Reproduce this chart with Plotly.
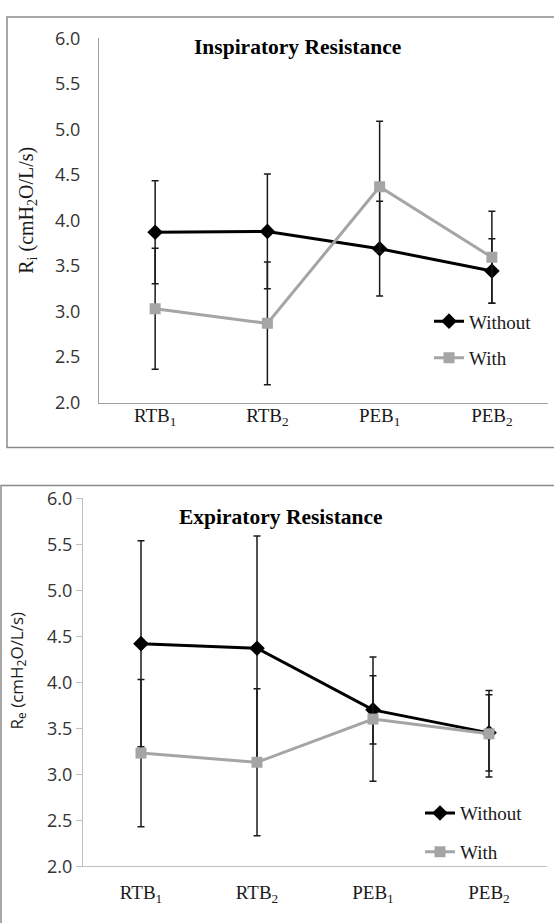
import plotly.graph_objects as go

W, H = 554, 923

categories = ["RTB<sub>1</sub>", "RTB<sub>2</sub>", "PEB<sub>1</sub>", "PEB<sub>2</sub>"]
y_ticks = [2.0, 2.5, 3.0, 3.5, 4.0, 4.5, 5.0, 5.5, 6.0]
y_tick_text = ["2.0", "2.5", "3.0", "3.5", "4.0", "4.5", "5.0", "5.5", "6.0"]

# Inspiratory resistance (top)
insp_without = [3.87, 3.88, 3.69, 3.445]
insp_without_err = [0.565, 0.63, 0.52, 0.355]
insp_with = [3.03, 2.87, 4.37, 3.595]
insp_with_err = [0.665, 0.675, 0.72, 0.505]

# Expiratory resistance (bottom)
exp_without = [4.42, 4.37, 3.70, 3.45]
exp_without_err = [1.12, 1.22, 0.37, 0.415]
exp_with = [3.23, 3.13, 3.60, 3.44]
exp_with_err = [0.80, 0.80, 0.675, 0.47]

series_names = ["Without", "With"]

BLACK = "#000000"
GRAY = "#a5a5a5"
ERR = "#1a1a1a"
SERIF = "Liberation Serif, Times New Roman, serif"
SANS = "Open Sans, Segoe UI, sans-serif"


def px_x(p):
    return p / W


def px_y(p):
    return 1 - p / H


fig = go.Figure()


def add_pair(xa, ya, legend, y_wo, e_wo, y_w, e_w):
    fig.add_trace(go.Scatter(
        x=categories, y=y_wo, name=series_names[0], mode="lines+markers",
        xaxis=xa, yaxis=ya, legend=legend, legendgroup=legend + "a",
        line=dict(color=BLACK, width=3),
        marker=dict(symbol="diamond", size=12, color=BLACK),
        error_y=dict(type="data", array=e_wo, visible=True, color=ERR, thickness=1.5, width=3.5),
    ))
    fig.add_trace(go.Scatter(
        x=categories, y=y_w, name=series_names[1], mode="lines+markers",
        xaxis=xa, yaxis=ya, legend=legend, legendgroup=legend + "b",
        line=dict(color=GRAY, width=3),
        marker=dict(symbol="square", size=11, color=GRAY),
        error_y=dict(type="data", array=e_w, visible=True, color=ERR, thickness=1.5, width=3.5),
    ))


add_pair("x", "y", "legend", insp_without, insp_without_err, insp_with, insp_with_err)
add_pair("x2", "y2", "legend2", exp_without, exp_without_err, exp_with, exp_with_err)

common_x = dict(type="category", range=[-0.5, 3.5], showgrid=False, zeroline=False,
                showline=True, tickfont=dict(family=SERIF, size=19, color="#1a1a1a"),
                fixedrange=True)
common_y = dict(range=[2, 6], tickvals=y_ticks, ticktext=y_tick_text, showgrid=False,
                zeroline=False, showline=True, tickfont=dict(family=SANS, size=18, color="#333333"),
                fixedrange=True)

fig.update_layout(
    width=W, height=H,
    margin=dict(l=0, r=0, t=0, b=0),
    paper_bgcolor="white", plot_bgcolor="white",
    xaxis=dict(domain=[px_x(99), px_x(548)], anchor="y", linecolor="#a0a0a0", linewidth=1,
               ticks="", ticklabelstandoff=-4, **common_x),
    yaxis=dict(domain=[px_y(400), px_y(26)], anchor="x", linecolor="#a0a0a0", linewidth=1,
               ticks="outside", ticklen=14, tickcolor="rgba(0,0,0,0)", **common_y),
    xaxis2=dict(domain=[px_x(83), px_x(547)], anchor="y2", linecolor="#bfbfbf", linewidth=1.2,
                ticks="outside", ticklen=9, tickcolor="rgba(0,0,0,0)", **common_x),
    yaxis2=dict(domain=[px_y(876), px_y(498.3)], anchor="x2", linecolor="#bfbfbf", linewidth=1.2,
                ticks="outside", ticklen=6, tickcolor="#bfbfbf", tickwidth=1.2, **common_y),
    legend=dict(x=px_x(429), y=px_y(297), xanchor="left", yanchor="top",
                bgcolor="rgba(0,0,0,0)", font=dict(family=SERIF, size=19, color="#1a1a1a"),
                traceorder="grouped", tracegroupgap=9),
    legend2=dict(x=px_x(420), y=px_y(802), xanchor="left", yanchor="top",
                 bgcolor="rgba(0,0,0,0)", font=dict(family=SERIF, size=19, color="#1a1a1a"),
                 traceorder="grouped", tracegroupgap=11),
    showlegend=True,
    shapes=[
        dict(type="rect", xref="paper", yref="paper", x0=px_x(7), x1=1.02,
             y0=px_y(446), y1=px_y(4), line=dict(color="#8a8a8a", width=1.5),
             fillcolor="rgba(0,0,0,0)", layer="below"),
        dict(type="rect", xref="paper", yref="paper", x0=px_x(1), x1=1.02,
             y0=-0.02, y1=px_y(485), line=dict(color="#8a8a8a", width=1.5),
             fillcolor="rgba(0,0,0,0)", layer="below"),
    ],
    annotations=[
        dict(text="<b>Inspiratory Resistance</b>", x=px_x(297), y=px_y(35), xref="paper",
             yref="paper", showarrow=False, xanchor="center", yanchor="middle",
             font=dict(family=SERIF, size=21.5, color="#000000")),
        dict(text="<b>Expiratory Resistance</b>", x=px_x(281), y=px_y(517), xref="paper",
             yref="paper", showarrow=False, xanchor="center", yanchor="middle",
             font=dict(family=SERIF, size=21.5, color="#000000")),
        dict(text="R<sub>i</sub> (cmH<sub>2</sub>O/L/s)", x=px_x(28), y=px_y(203), xref="paper",
             yref="paper", showarrow=False, xanchor="center", yanchor="middle", textangle=-90,
             font=dict(family=SERIF, size=20, color="#1a1a1a")),
        dict(text="R<sub>e</sub> (cmH<sub>2</sub>O/L/s)", x=px_x(17), y=px_y(675), xref="paper",
             yref="paper", showarrow=False, xanchor="center", yanchor="middle", textangle=-90,
             font=dict(family=SANS, size=17, color="#1a1a1a")),
    ],
)

fig.write_html("out.html")
